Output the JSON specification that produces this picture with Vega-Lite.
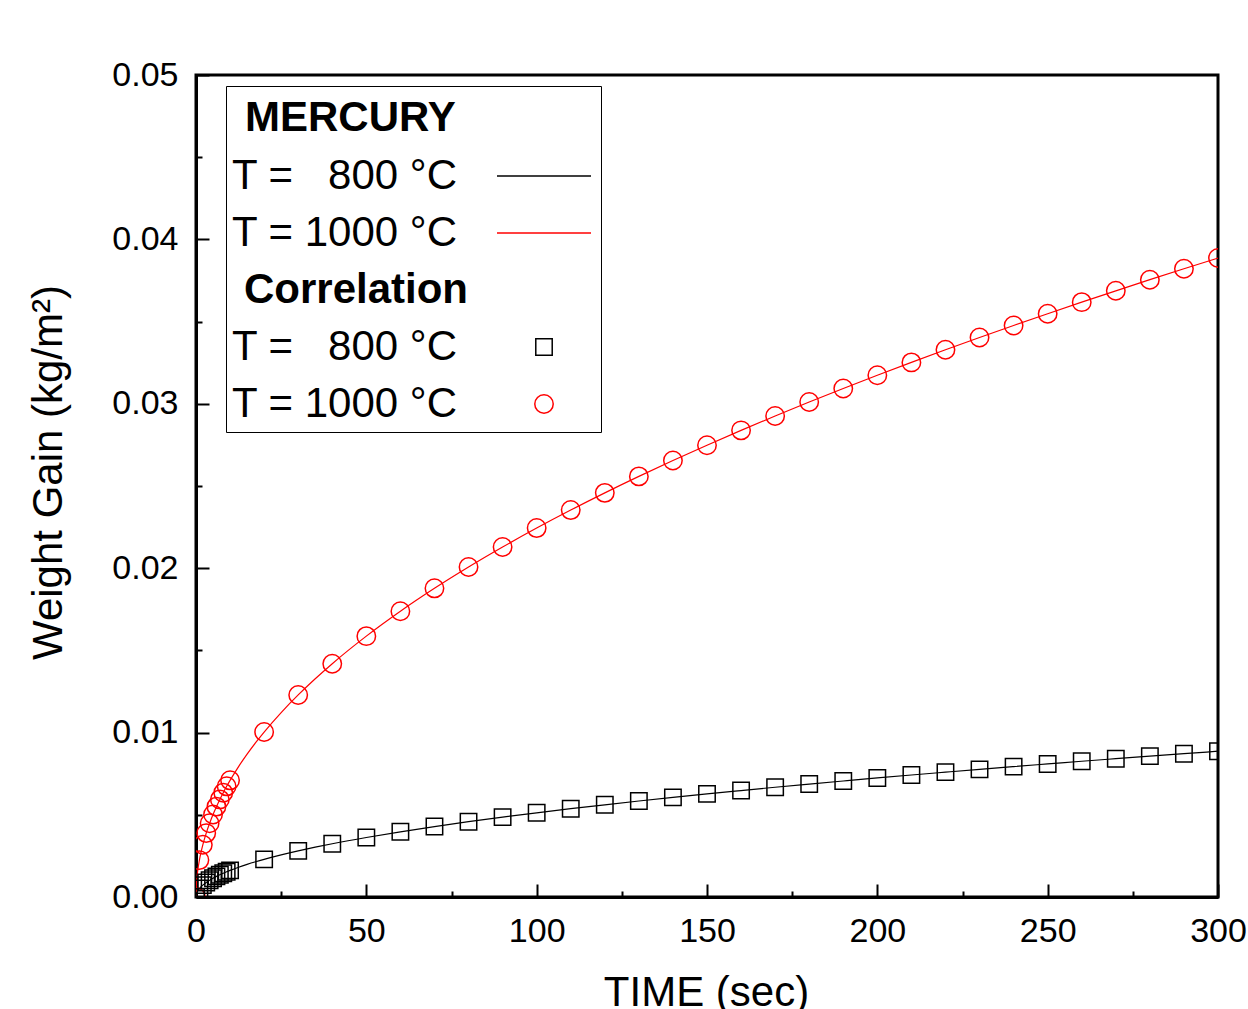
{
  "$schema": "https://vega.github.io/schema/vega-lite/v6.json",
  "width": 1022,
  "height": 822,
  "autosize": {"type": "none"},
  "padding": {"left": 196, "top": 75, "right": 30, "bottom": 112},
  "background": "white",
  "config": {
    "view": {"stroke": "black", "strokeWidth": 3},
    "font": "Liberation Sans"
  },
  "datasets": {
    "lines": [
      {"series": "L1000", "t": 0, "w": 0},
      {"series": "L1000", "t": 0.05, "w": 0.000502},
      {"series": "L1000", "t": 0.2, "w": 0.001004},
      {"series": "L1000", "t": 0.5, "w": 0.001587},
      {"series": "L1000", "t": 1, "w": 0.002244},
      {"series": "L1000", "t": 1.5, "w": 0.002748},
      {"series": "L1000", "t": 2, "w": 0.003174},
      {"series": "L1000", "t": 3, "w": 0.003887},
      {"series": "L1000", "t": 4, "w": 0.004488},
      {"series": "L1000", "t": 5, "w": 0.005018},
      {"series": "L1000", "t": 6, "w": 0.005497},
      {"series": "L1000", "t": 7, "w": 0.005937},
      {"series": "L1000", "t": 8, "w": 0.006347},
      {"series": "L1000", "t": 9, "w": 0.006732},
      {"series": "L1000", "t": 10, "w": 0.007096},
      {"series": "L1000", "t": 12.5, "w": 0.007934},
      {"series": "L1000", "t": 15, "w": 0.008691},
      {"series": "L1000", "t": 17.5, "w": 0.009387},
      {"series": "L1000", "t": 20, "w": 0.010035},
      {"series": "L1000", "t": 25, "w": 0.01122},
      {"series": "L1000", "t": 30, "w": 0.012291},
      {"series": "L1000", "t": 35, "w": 0.013276},
      {"series": "L1000", "t": 40, "w": 0.014192},
      {"series": "L1000", "t": 50, "w": 0.015867},
      {"series": "L1000", "t": 60, "w": 0.017382},
      {"series": "L1000", "t": 70, "w": 0.018775},
      {"series": "L1000", "t": 80, "w": 0.020071},
      {"series": "L1000", "t": 90, "w": 0.021288},
      {"series": "L1000", "t": 100, "w": 0.02244},
      {"series": "L1000", "t": 110, "w": 0.023535},
      {"series": "L1000", "t": 120, "w": 0.024582},
      {"series": "L1000", "t": 130, "w": 0.025585},
      {"series": "L1000", "t": 140, "w": 0.026551},
      {"series": "L1000", "t": 150, "w": 0.027483},
      {"series": "L1000", "t": 160, "w": 0.028385},
      {"series": "L1000", "t": 170, "w": 0.029258},
      {"series": "L1000", "t": 180, "w": 0.030106},
      {"series": "L1000", "t": 190, "w": 0.030932},
      {"series": "L1000", "t": 200, "w": 0.031735},
      {"series": "L1000", "t": 210, "w": 0.032519},
      {"series": "L1000", "t": 220, "w": 0.033284},
      {"series": "L1000", "t": 230, "w": 0.034032},
      {"series": "L1000", "t": 240, "w": 0.034764},
      {"series": "L1000", "t": 250, "w": 0.03548},
      {"series": "L1000", "t": 260, "w": 0.036183},
      {"series": "L1000", "t": 270, "w": 0.036873},
      {"series": "L1000", "t": 280, "w": 0.03755},
      {"series": "L1000", "t": 290, "w": 0.038214},
      {"series": "L1000", "t": 300, "w": 0.038867},
      {"series": "L800", "t": 0, "w": 0},
      {"series": "L800", "t": 0.05, "w": 0.000114},
      {"series": "L800", "t": 0.2, "w": 0.000229},
      {"series": "L800", "t": 0.5, "w": 0.000362},
      {"series": "L800", "t": 1, "w": 0.000512},
      {"series": "L800", "t": 1.5, "w": 0.000627},
      {"series": "L800", "t": 2, "w": 0.000724},
      {"series": "L800", "t": 3, "w": 0.000887},
      {"series": "L800", "t": 4, "w": 0.001024},
      {"series": "L800", "t": 5, "w": 0.001145},
      {"series": "L800", "t": 6, "w": 0.001254},
      {"series": "L800", "t": 7, "w": 0.001355},
      {"series": "L800", "t": 8, "w": 0.001448},
      {"series": "L800", "t": 9, "w": 0.001536},
      {"series": "L800", "t": 10, "w": 0.001619},
      {"series": "L800", "t": 12.5, "w": 0.00181},
      {"series": "L800", "t": 15, "w": 0.001983},
      {"series": "L800", "t": 17.5, "w": 0.002142},
      {"series": "L800", "t": 20, "w": 0.00229},
      {"series": "L800", "t": 25, "w": 0.00256},
      {"series": "L800", "t": 30, "w": 0.002804},
      {"series": "L800", "t": 35, "w": 0.003029},
      {"series": "L800", "t": 40, "w": 0.003238},
      {"series": "L800", "t": 50, "w": 0.00362},
      {"series": "L800", "t": 60, "w": 0.003966},
      {"series": "L800", "t": 70, "w": 0.004284},
      {"series": "L800", "t": 80, "w": 0.00458},
      {"series": "L800", "t": 90, "w": 0.004857},
      {"series": "L800", "t": 100, "w": 0.00512},
      {"series": "L800", "t": 110, "w": 0.00537},
      {"series": "L800", "t": 120, "w": 0.005609},
      {"series": "L800", "t": 130, "w": 0.005838},
      {"series": "L800", "t": 140, "w": 0.006058},
      {"series": "L800", "t": 150, "w": 0.006271},
      {"series": "L800", "t": 160, "w": 0.006476},
      {"series": "L800", "t": 170, "w": 0.006676},
      {"series": "L800", "t": 180, "w": 0.006869},
      {"series": "L800", "t": 190, "w": 0.007057},
      {"series": "L800", "t": 200, "w": 0.007241},
      {"series": "L800", "t": 210, "w": 0.00742},
      {"series": "L800", "t": 220, "w": 0.007594},
      {"series": "L800", "t": 230, "w": 0.007765},
      {"series": "L800", "t": 240, "w": 0.007932},
      {"series": "L800", "t": 250, "w": 0.008095},
      {"series": "L800", "t": 260, "w": 0.008256},
      {"series": "L800", "t": 270, "w": 0.008413},
      {"series": "L800", "t": 280, "w": 0.008567},
      {"series": "L800", "t": 290, "w": 0.008719},
      {"series": "L800", "t": 300, "w": 0.008868}
    ],
    "pts": [
      {"series": "P1000", "t": 0, "w": 0},
      {"series": "P1000", "t": 1, "w": 0.002244},
      {"series": "P1000", "t": 2, "w": 0.003174},
      {"series": "P1000", "t": 3, "w": 0.003887},
      {"series": "P1000", "t": 4, "w": 0.004488},
      {"series": "P1000", "t": 5, "w": 0.005018},
      {"series": "P1000", "t": 6, "w": 0.005497},
      {"series": "P1000", "t": 7, "w": 0.005937},
      {"series": "P1000", "t": 8, "w": 0.006347},
      {"series": "P1000", "t": 9, "w": 0.006732},
      {"series": "P1000", "t": 10, "w": 0.007096},
      {"series": "P1000", "t": 20, "w": 0.010035},
      {"series": "P1000", "t": 30, "w": 0.012291},
      {"series": "P1000", "t": 40, "w": 0.014192},
      {"series": "P1000", "t": 50, "w": 0.015867},
      {"series": "P1000", "t": 60, "w": 0.017382},
      {"series": "P1000", "t": 70, "w": 0.018775},
      {"series": "P1000", "t": 80, "w": 0.020071},
      {"series": "P1000", "t": 90, "w": 0.021288},
      {"series": "P1000", "t": 100, "w": 0.02244},
      {"series": "P1000", "t": 110, "w": 0.023535},
      {"series": "P1000", "t": 120, "w": 0.024582},
      {"series": "P1000", "t": 130, "w": 0.025585},
      {"series": "P1000", "t": 140, "w": 0.026551},
      {"series": "P1000", "t": 150, "w": 0.027483},
      {"series": "P1000", "t": 160, "w": 0.028385},
      {"series": "P1000", "t": 170, "w": 0.029258},
      {"series": "P1000", "t": 180, "w": 0.030106},
      {"series": "P1000", "t": 190, "w": 0.030932},
      {"series": "P1000", "t": 200, "w": 0.031735},
      {"series": "P1000", "t": 210, "w": 0.032519},
      {"series": "P1000", "t": 220, "w": 0.033284},
      {"series": "P1000", "t": 230, "w": 0.034032},
      {"series": "P1000", "t": 240, "w": 0.034764},
      {"series": "P1000", "t": 250, "w": 0.03548},
      {"series": "P1000", "t": 260, "w": 0.036183},
      {"series": "P1000", "t": 270, "w": 0.036873},
      {"series": "P1000", "t": 280, "w": 0.03755},
      {"series": "P1000", "t": 290, "w": 0.038214},
      {"series": "P1000", "t": 300, "w": 0.038867},
      {"series": "P800", "t": 0, "w": 0},
      {"series": "P800", "t": 1, "w": 0.000512},
      {"series": "P800", "t": 2, "w": 0.000724},
      {"series": "P800", "t": 3, "w": 0.000887},
      {"series": "P800", "t": 4, "w": 0.001024},
      {"series": "P800", "t": 5, "w": 0.001145},
      {"series": "P800", "t": 6, "w": 0.001254},
      {"series": "P800", "t": 7, "w": 0.001355},
      {"series": "P800", "t": 8, "w": 0.001448},
      {"series": "P800", "t": 9, "w": 0.001536},
      {"series": "P800", "t": 10, "w": 0.001619},
      {"series": "P800", "t": 20, "w": 0.00229},
      {"series": "P800", "t": 30, "w": 0.002804},
      {"series": "P800", "t": 40, "w": 0.003238},
      {"series": "P800", "t": 50, "w": 0.00362},
      {"series": "P800", "t": 60, "w": 0.003966},
      {"series": "P800", "t": 70, "w": 0.004284},
      {"series": "P800", "t": 80, "w": 0.00458},
      {"series": "P800", "t": 90, "w": 0.004857},
      {"series": "P800", "t": 100, "w": 0.00512},
      {"series": "P800", "t": 110, "w": 0.00537},
      {"series": "P800", "t": 120, "w": 0.005609},
      {"series": "P800", "t": 130, "w": 0.005838},
      {"series": "P800", "t": 140, "w": 0.006058},
      {"series": "P800", "t": 150, "w": 0.006271},
      {"series": "P800", "t": 160, "w": 0.006476},
      {"series": "P800", "t": 170, "w": 0.006676},
      {"series": "P800", "t": 180, "w": 0.006869},
      {"series": "P800", "t": 190, "w": 0.007057},
      {"series": "P800", "t": 200, "w": 0.007241},
      {"series": "P800", "t": 210, "w": 0.00742},
      {"series": "P800", "t": 220, "w": 0.007594},
      {"series": "P800", "t": 230, "w": 0.007765},
      {"series": "P800", "t": 240, "w": 0.007932},
      {"series": "P800", "t": 250, "w": 0.008095},
      {"series": "P800", "t": 260, "w": 0.008256},
      {"series": "P800", "t": 270, "w": 0.008413},
      {"series": "P800", "t": 280, "w": 0.008567},
      {"series": "P800", "t": 290, "w": 0.008719},
      {"series": "P800", "t": 300, "w": 0.008868}
    ]
  },
  "layer": [
    {
      "data": {"name": "lines"},
      "mark": {"type": "line", "strokeWidth": 1.2, "clip": true, "interpolate": "monotone"},
      "encoding": {
        "x": {
          "field": "t", "type": "quantitative", "title": "TIME (sec)",
          "scale": {"domain": [0, 300], "nice": false, "zero": false},
          "axis": {
            "values": [0, 25, 50, 75, 100, 125, 150, 175, 200, 225, 250, 275, 300],
            "labelExpr": "datum.value % 50 === 0 ? datum.label : ''",
            "grid": false,
            "domainColor": "black", "domainWidth": 3,
            "tickColor": "black", "tickWidth": 2,
            "tickSize": {"condition": {"test": "datum.value % 50 === 0", "value": -13}, "value": -6},
            "labelFontSize": 34, "labelColor": "black", "labelFont": "Liberation Sans",
            "labelPadding": 30, "labelFlush": false, "labelOverlap": false,
            "titleFontSize": 42, "titleFontWeight": "normal", "titleColor": "black", "titleFont": "Liberation Sans",
            "titleX": 510, "titleY": 108, "titleBaseline": "alphabetic", "titleAlign": "center"
          }
        },
        "y": {
          "field": "w", "type": "quantitative", "title": "Weight Gain (kg/m²)",
          "scale": {"domain": [0, 0.05], "nice": false},
          "axis": {
            "values": [0, 0.005, 0.01, 0.015, 0.02, 0.025, 0.03, 0.035, 0.04, 0.045, 0.05],
            "labelExpr": "round(datum.value * 1000) % 10 === 0 ? format(datum.value, '.2f') : ''",
            "grid": false,
            "domainColor": "black", "domainWidth": 3,
            "tickColor": "black", "tickWidth": 2,
            "tickSize": {"condition": {"test": "round(datum.value * 1000) % 10 === 0", "value": -13}, "value": -6},
            "labelFontSize": 34, "labelColor": "black", "labelFont": "Liberation Sans",
            "labelPadding": 31, "labelFlush": false, "labelOverlap": false,
            "titleFontSize": 42, "titleFontWeight": "normal", "titleColor": "black", "titleFont": "Liberation Sans",
            "titleX": -148, "titleY": 397, "titleAngle": 270, "titleBaseline": "middle", "titleAlign": "center"
          }
        },
        "color": {
          "field": "series", "type": "nominal",
          "scale": {"domain": ["L800", "L1000", "CORR", "P800", "P1000"], "range": ["#000000", "#ff0000", "transparent", "#000000", "#ff0000"]},
          "legend": {
            "title": "MERCURY",
            "orient": "none", "legendX": 30, "legendY": 11,
            "padding": 7, "strokeColor": "black", "fillColor": "white", "cornerRadius": 0,
            "titleFontSize": 42, "titleFontWeight": "bold", "titleColor": "black", "titleFont": "Liberation Sans", "titlePadding": 20, "titleLimit": 2000,
            "labelFontSize": 42, "labelColor": "black", "labelFont": "Liberation Sans", "labelLimit": 0,
            "labelExpr": "datum.value === 'CORR' ? 'Correlation' : (datum.value === 'L800' || datum.value === 'P800') ? 'T = \u2007800 °C' : 'T = 1000 °C'",
            "rowPadding": 15,
            "symbolSize": 290, "symbolStrokeWidth": 1.5, "symbolOffset": 290, "labelOffset": -333,
            "encode": {
              "symbols": {
                "update": {
                  "shape": {"signal": "(datum.value === 'L800' || datum.value === 'L1000') ? 'stroke' : datum.value === 'P800' ? 'square' : 'circle'"},
                  "size": {"signal": "(datum.value === 'L800' || datum.value === 'L1000') ? 8836 : datum.value === 'CORR' ? 0 : datum.value === 'P800' ? 270 : 340"},
                  "stroke": {"signal": "(datum.value === 'L1000' || datum.value === 'P1000') ? '#ff0000' : datum.value === 'CORR' ? 'transparent' : '#000000'"},
                  "fill": {"value": "transparent"},
                  "strokeWidth": {"signal": "(datum.value === 'L800' || datum.value === 'L1000') ? 1.3 : 1.5"},
                  "opacity": {"value": 1}
                }
              },
              "labels": {
                "update": {
                  "fontWeight": {"signal": "datum.value === 'CORR' ? 'bold' : 'normal'"},
                  "dx": {"signal": "datum.value === 'CORR' ? 12 : 0"}
                }
              },
              "title": {"update": {"dx": {"value": 12}, "dy": {"value": 5}}}
            }
          }
        }
      }
    },
    {
      "data": {"name": "pts"},
      "mark": {"type": "point", "filled": false, "strokeWidth": 1.5, "opacity": 1, "clip": true},
      "encoding": {
        "x": {"field": "t", "type": "quantitative", "title": "TIME (sec)"},
        "y": {"field": "w", "type": "quantitative", "title": "Weight Gain (kg/m²)"},
        "color": {"field": "series", "type": "nominal"},
        "shape": {
          "field": "series", "type": "nominal",
          "scale": {"domain": ["L800", "L1000", "CORR", "P800", "P1000"], "range": ["stroke", "stroke", "circle", "square", "circle"]},
          "legend": null
        },
        "size": {"condition": {"test": "datum.series === 'P1000'", "value": 340}, "value": 270}
      }
    }
  ]
}
